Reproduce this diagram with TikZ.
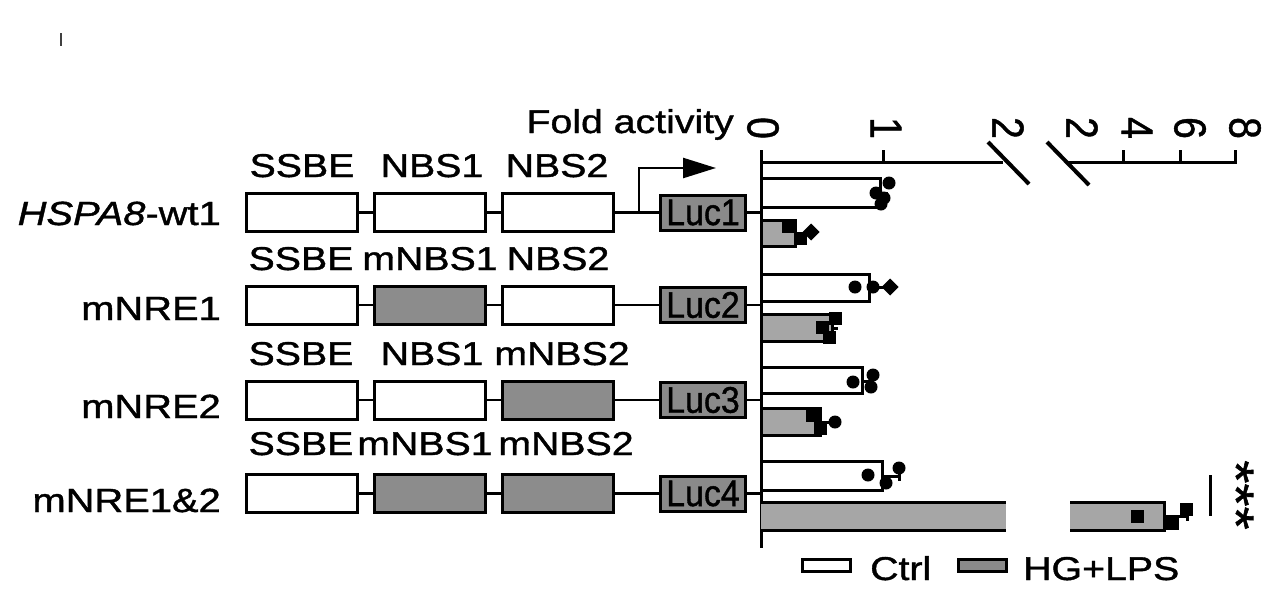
\documentclass[tikz,border=0pt]{standalone}
\usepackage{fontspec}
\setmainfont{Liberation Sans}[FakeStretch=1.19, FakeBold=1.2]
\usepackage{graphicx}
\usetikzlibrary{arrows.meta}
\definecolor{mutgrey}{HTML}{8C8C8C}
\definecolor{lucgrey}{HTML}{8A8A8A}
\definecolor{bargrey}{HTML}{A6A6A6}
\newcommand\luctext[1]{\scalebox{0.77}[1]{\fontsize{37}{40}\selectfont #1}}
\newcommand\ticklab[1]{\scalebox{1}[1.36]{#1}}
\newcommand\pdot[2]{\fill (#1,#2) circle (6.5);}
\newcommand\psq[2]{\fill ({#1-6.5},{#2-6.5}) rectangle ++(13,13);}
\newcommand\pdia[2]{\fill (#1,#2) ++(-8.5,0) -- ++(8.5,-8.5) -- ++(8.5,8.5) -- ++(-8.5,8.5) -- cycle;}
\begin{document}
\begin{tikzpicture}[x=1pt,y=-1pt,
  elem/.style={draw, line width=3pt, minimum width=111pt, minimum height=38pt, inner sep=0pt, fill=white},
  mut/.style={elem, fill=mutgrey},
  luc/.style={draw, line width=3pt, fill=lucgrey, minimum width=85pt, minimum height=35pt, inner sep=0pt},
  link/.style={line width=2.5pt},
  lbl/.style={anchor=base, inner sep=0pt, font=\fontsize{33}{36}\selectfont},
  rlbl/.style={anchor=base east, inner sep=0pt, font=\fontsize{33.5}{36}\selectfont},
  ticknum/.style={rotate=-90, inner sep=0pt, font=\fontsize{33}{36}\selectfont},
  ax/.style={line width=3pt},
  cbar/.style={draw, line width=3pt, fill=white},
  hbar/.style={draw, line width=3pt, fill=bargrey},
  err/.style={line width=3pt}]
\useasboundingbox (0,0) rectangle (1280,590);

% stray mark
\draw[line width=1.5pt, black!75] (61,33) -- (61,46);

% ---------- row 1 ----------
\node[elem] (a1) at (302,212.5) {};
\node[elem] (b1) at (430,212.5) {};
\node[elem] (c1) at (558,212.5) {};
\node[luc]  (l1) at (703,212.5) {\luctext{Luc1}};
\coordinate (x1) at (761,212.5);
\coordinate (p1) at (639,212.5);
\coordinate (tip) at (716,168);
\draw[link] (a1) -- (b1);
\draw[link] (b1) -- (c1);
\draw[link] (c1) -- (l1);
\draw[link] (l1) -- (x1);
\draw[link, -{Triangle[length=33pt,width=20pt]}] (p1) |- (tip);
\node[lbl] (t1a) at (302,177) {SSBE};
\node[lbl] (t1b) at (432,177) {NBS1};
\node[lbl] (t1c) at (557,177) {NBS2};
\node[rlbl] (n1) at (221,225) {\textit{HSPA8}-wt1};

% ---------- row 2 ----------
\node[elem] (a2) at (302,305) {};
\node[mut]  (b2) at (430,305) {};
\node[elem] (c2) at (558,305) {};
\node[luc]  (l2) at (703,305) {\luctext{Luc2}};
\coordinate (x2) at (761,305);
\draw[link] (a2) -- (b2);
\draw[link] (b2) -- (c2);
\draw[link] (c2) -- (l2);
\draw[link] (l2) -- (x2);
\node[lbl] (t2a) at (301,270) {SSBE};
\node[lbl] (t2b) at (430,270) {mNBS1};
\node[lbl] (t2c) at (558,270) {NBS2};
\node[rlbl] (n2) at (221,320) {mNRE1};

% ---------- row 3 ----------
\node[elem] (a3) at (302,400) {};
\node[elem] (b3) at (430,400) {};
\node[mut]  (c3) at (558,400) {};
\node[luc]  (l3) at (703,400) {\luctext{Luc3}};
\coordinate (x3) at (761,400);
\draw[link] (a3) -- (b3);
\draw[link] (b3) -- (c3);
\draw[link] (c3) -- (l3);
\draw[link] (l3) -- (x3);
\node[lbl] (t3a) at (301,365) {SSBE};
\node[lbl] (t3b) at (432,365) {NBS1};
\node[lbl] (t3c) at (562,365) {mNBS2};
\node[rlbl] (n3) at (221,418) {mNRE2};

% ---------- row 4 ----------
\node[elem] (a4) at (302,493.5) {};
\node[mut]  (b4) at (430,493.5) {};
\node[mut]  (c4) at (558,493.5) {};
\node[luc]  (l4) at (703,493.5) {\luctext{Luc4}};
\coordinate (x4) at (761,493.5);
\draw[link] (a4) -- (b4);
\draw[link] (b4) -- (c4);
\draw[link] (c4) -- (l4);
\draw[link] (l4) -- (x4);
\node[lbl] (t4a) at (301,455) {SSBE};
\node[lbl] (t4b) at (425,455) {mNBS1};
\node[lbl] (t4c) at (566,455) {mNBS2};
\node[rlbl] (n4) at (221,512) {mNRE1\&2};

% ---------- chart axes ----------
\node[anchor=base east, inner sep=0pt, font=\fontsize{33}{36}\selectfont] (fold) at (734,133) {Fold activity};
\draw[ax] (761,150) -- (761,548);
\draw[ax] (761,162) -- (1003,162);
\draw[ax, line join=miter] (1068,162) -- (1235,162) -- (1235,150);
\draw[ax] (883,150) -- (883,162);
\draw[ax] (1123,150) -- (1123,162);
\draw[ax] (1180,150) -- (1180,162);
\draw[line width=4pt] (988,142) -- (1029,184);
\draw[line width=4pt] (1047,142) -- (1089,185);
\node[ticknum] (k0) at (763,128) {\ticklab{0}};
\node[ticknum] (k1) at (886,128) {\ticklab{1}};
\node[ticknum] (k2) at (1008,128) {\ticklab{2}};
\node[ticknum] (k2b) at (1082,128) {\ticklab{2}};
\node[ticknum] (k4) at (1137,128) {\ticklab{4}};
\node[ticknum] (k6) at (1190,128) {\ticklab{6}};
\node[ticknum] (k8) at (1245,128) {\ticklab{8}};

% ---------- bars ----------
% row 1
\draw[cbar] (761,178.5) rectangle (880.5,207.5);
\draw[hbar] (761,220.5) rectangle (795.5,246.5);
% row 2
\draw[cbar] (761,274.5) rectangle (869.5,301.5);
\draw[hbar] (761,314.5) rectangle (832,341.5);
% row 3
\draw[cbar] (761,367.5) rectangle (862.5,393.5);
\draw[hbar] (761,408.5) rectangle (820.5,435.5);
% row 4
\draw[cbar] (761,461.5) rectangle (882.5,490.5);
\fill[bargrey] (761,502.5) rectangle (1006,530.5);
\draw[ax] (761,502.5) -- (1006,502.5);
\draw[ax] (761,530.5) -- (1006,530.5);
\fill[bargrey] (1070,502.5) rectangle (1164.5,530.5);
\draw[ax, line join=miter] (1070,502.5) -- (1164.5,502.5) -- (1164.5,530.5) -- (1070,530.5);

% ---------- error bars and points ----------
% row 1 ctrl
\draw[err] (880,193) -- (888,193);
\pdot{889}{183} \pdot{876}{193} \pdot{884}{198} \pdot{881}{204}
% row 1 HG
\draw[err] (795,233) -- (810,233);
\psq{788}{226} \psq{800}{238} \pdia{811}{232}
% row 2 ctrl
\draw[err] (869,287) -- (888,287);
\pdot{855}{287} \pdot{873}{287} \pdia{890}{287}
% row 2 HG
\draw[err] (832,328) -- (838,328);
\psq{835}{318} \psq{822}{327} \psq{829}{337}
% row 3 ctrl
\draw[err] (862,381) -- (870,381);
\pdot{853}{382} \pdot{873}{375} \pdot{871}{387}
% row 3 HG
\draw[err] (820,422) -- (834,422);
\psq{812}{415} \psq{820}{428} \pdot{835}{422}
% row 4 ctrl
\draw[err] (882,476) -- (899,476);
\draw[err] (899,470) -- (899,481);
\pdot{868}{475} \pdot{899}{468} \pdot{886}{483}
% row 4 HG
\draw[err] (1164,516) -- (1187,516);
\draw[err] (1187,507) -- (1187,521);
\psq{1137}{516} \psq{1172}{523} \psq{1186}{509}

% significance
\draw[ax] (1210,475) -- (1210,516);
\node[rotate=-90, inner sep=0pt, font=\fontsize{50}{54}\selectfont] (sig) at (1236,495) {***};

% ---------- legend ----------
\node[draw, fill=white, line width=3pt, minimum width=48pt, minimum height=12pt, inner sep=0pt] (legc) at (826.5,565.5) {};
\node[anchor=base west, inner sep=0pt, font=\fontsize{33}{36}\selectfont] (legct) at (870,580) {Ctrl};
\node[draw, fill=lucgrey, line width=3pt, minimum width=48pt, minimum height=12pt, inner sep=0pt] (legh) at (982.5,565.5) {};
\node[anchor=base west, inner sep=0pt, font=\fontsize{33}{36}\selectfont] (leght) at (1023,580) {HG+LPS};
\end{tikzpicture}
\end{document}
